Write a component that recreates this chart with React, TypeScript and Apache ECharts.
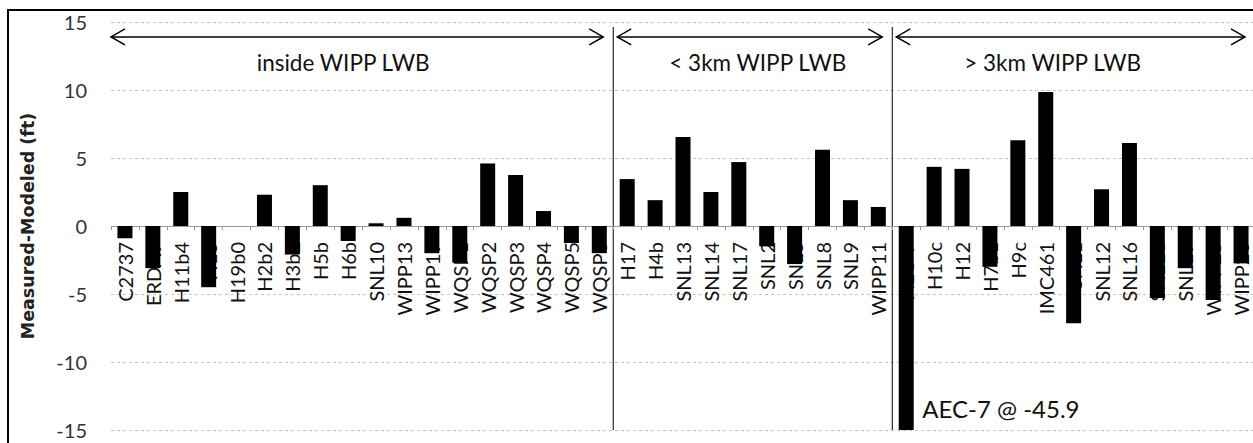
import React, { useEffect, useRef } from "react";
import * as echarts from "echarts";

const categories = [
  "C2737", "ERDA9", "H11b4", "H15", "H19b0", "H2b2", "H3b2", "H5b", "H6b", "SNL10",
  "WIPP13", "WIPP19", "WQSP1", "WQSP2", "WQSP3", "WQSP4", "WQSP5", "WQSP6",
  "H17", "H4b", "SNL13", "SNL14", "SNL17", "SNL2", "SNL3", "SNL8", "SNL9", "WIPP11",
  "AEC-7", "H10c", "H12", "H7b1", "H9c", "IMC461", "SNL1", "SNL12", "SNL16", "SNL18",
  "SNL19", "WIPP25", "WIPP26",
];

const residuals = [
  -0.9, -3.1, 2.5, -4.5, 0, 2.3, -2.1, 3.0, -1.1, 0.2,
  0.6, -2.0, -2.7, 4.6, 3.75, 1.1, -1.25, -2.0,
  3.45, 1.9, 6.55, 2.5, 4.7, -1.5, -2.8, 5.6, 1.9, 1.4,
  -45.9, 4.35, 4.2, -3.0, 6.3, 9.85, -7.15, 2.7, 6.1, -5.3,
  -3.1, -5.45, -2.75,
];

const yTicks = { min: -15, max: 15, interval: 5 };

const sections = [
  { label: "inside WIPP LWB", first: 0, last: 17 },
  { label: "< 3km WIPP LWB", first: 18, last: 27 },
  { label: "> 3km WIPP LWB", first: 28, last: 40 },
];

const noteCategory = "AEC-7";
const noteText = "AEC-7 @ -45.9";

const FONT = "Lato, 'Open Sans', sans-serif";
const NAME_FONT = "'DejaVu Sans', sans-serif";

export default function App() {
  const ref = useRef<HTMLDivElement>(null);

  useEffect(() => {
    if (!ref.current) return;
    const chart = echarts.init(ref.current, null, { renderer: "svg" });
    chart.setOption({
      animation: false,
      grid: { left: 111, right: -2, top: 22, bottom: 13, containLabel: false, outerBoundsMode: "none" },
      xAxis: {
        type: "category",
        data: categories,
        axisLine: { onZero: false, lineStyle: { color: "#9a9a9a", width: 1 } },
        axisTick: { show: true, length: 4, lineStyle: { color: "#9a9a9a" } },
        axisLabel: {
          rotate: 90,
          interval: 0,
          margin: 16,
          fontSize: 20,
          color: "#111",
          fontFamily: FONT,
        },
        splitLine: { show: false },
      },
      yAxis: {
        type: "value",
        min: yTicks.min,
        max: yTicks.max,
        interval: yTicks.interval,
        axisLine: { show: false },
        axisTick: { show: false },
        axisLabel: { fontSize: 20, color: "#333", margin: 24, fontFamily: FONT },
        splitLine: { lineStyle: { color: "#c4c4c4", type: [3, 3], width: 1 } },
        name: "Measured-Modeled (ft)",
        nameLocation: "middle",
        nameGap: 74,
        nameTextStyle: { fontSize: 17.5, fontWeight: "bold", color: "#222", fontFamily: NAME_FONT },
      },
      series: [
        {
          type: "bar",
          data: residuals,
          barWidth: 15,
          itemStyle: { color: "#000" },
          clip: true,
        },
      ],
    });

    const xp = (i: number) => chart.convertToPixel({ xAxisIndex: 0 }, categories[i]) as number;
    const yp = (v: number) => chart.convertToPixel({ yAxisIndex: 0 }, v) as number;

    // lift the category axis (line, ticks, labels) up to the zero line
    chart.setOption({ xAxis: { offset: -(yp(yTicks.min) - yp(0)) } });

    const band = xp(1) - xp(0);
    const arrowY = yp(13.9);
    const labelY = yp(12.0);
    const labelShift = [-19, 5, -21];
    const graphics: any[] = [
      {
        type: "rect",
        shape: { x: 8, y: 10, width: 1300, height: 460 },
        style: { fill: "none", stroke: "#000", lineWidth: 2 },
        silent: true,
      },
    ];
    sections.forEach((s, k) => {
      const left = xp(s.first) - band / 2 + (k === 0 ? 0 : 4);
      const right = xp(s.last) + band / 2 - 10;
      graphics.push({
        type: "line",
        shape: { x1: left, y1: arrowY, x2: right, y2: arrowY },
        style: { stroke: "#000", lineWidth: 1.5 },
      });
      graphics.push({
        type: "polyline",
        shape: { points: [[left + 14, arrowY - 8], [left, arrowY], [left + 14, arrowY + 8]] },
        style: { stroke: "#000", lineWidth: 1.5, fill: "none" },
      });
      graphics.push({
        type: "polyline",
        shape: { points: [[right - 14, arrowY - 8], [right, arrowY], [right - 14, arrowY + 8]] },
        style: { stroke: "#000", lineWidth: 1.5, fill: "none" },
      });
      graphics.push({
        type: "text",
        x: (xp(s.first) - band / 2 + xp(s.last) + band / 2) / 2 + labelShift[k],
        y: labelY,
        style: {
          text: s.label,
          font: `22.5px ${FONT}`,
          fill: "#111",
          align: "center",
          verticalAlign: "middle",
        },
      });
      if (k > 0) {
        const bx = xp(s.first) - band / 2;
        graphics.push({
          type: "line",
          shape: { x1: bx, y1: 27, x2: bx, y2: yp(yTicks.min) },
          style: { stroke: "#000", lineWidth: 1 },
        });
      }
    });
    const ni = categories.indexOf(noteCategory);
    graphics.push({
      type: "text",
      x: xp(ni) + 16,
      y: yp(-13.4),
      style: {
        text: noteText,
        font: `24px ${FONT}`,
        fill: "#111",
        align: "left",
        verticalAlign: "middle",
      },
    });
    chart.setOption({ graphic: graphics });

    return () => chart.dispose();
  }, []);

  return (
    <div
      ref={ref}
      style={{ position: "absolute", left: 0, top: 0, width: 1253, height: 443, background: "#fff" }}
    />
  );
}
